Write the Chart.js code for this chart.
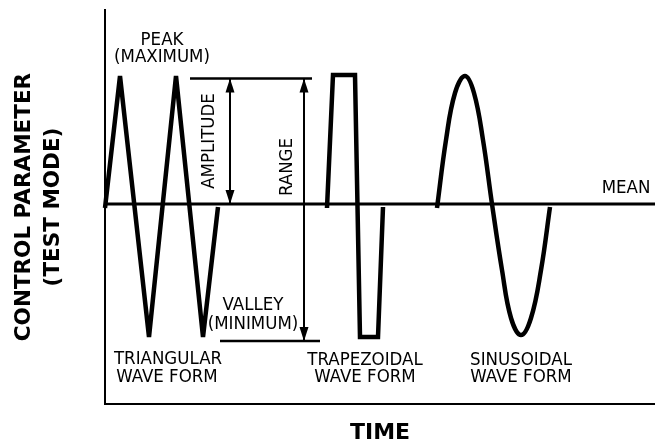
<!DOCTYPE html>
<html>
<head>
<meta charset="utf-8">
<script src="https://cdn.jsdelivr.net/npm/chart.js@4/dist/chart.umd.min.js"></script>
<style>
  html, body { margin: 0; padding: 0; background: #fff; }
  #wrap { width: 655px; height: 442px; }
</style>
</head>
<body>
<div id="wrap"><canvas id="c" width="655" height="442"></canvas></div>
<script>
// ---- Data (time units along x, control-parameter units along y; mean = 0) ----
const triangularTime  = [0, 15, 44, 71, 98, 113];
const triangularValue = [-4, 128, -133, 128, -133, -3];

const trapezoidalTime  = [222, 228, 250, 255, 273, 278];
const trapezoidalValue = [-4, 129, 129, -133, -133, -3];

const sinusoidalTime  = [332, 341, 350, 360, 369, 378, 387, 397, 406, 416, 426, 436, 445];
const sinusoidalValue = [-4, 64, 111, 128, 111, 64, 0, -66, -114, -131, -114, -66, -3];

const meanTime  = [0, 550];
const meanValue = [0, 0];

const peakRefTime    = [85, 207];
const peakRefValue   = [125.5, 125.5];
const valleyRefTime  = [115, 215];
const valleyRefValue = [-137, -137];

const amplitudeTime  = [125, 125];
const amplitudeValue = [125.5, 0];
const rangeTime      = [199, 199];
const rangeValue     = [125.5, -137];

const axisRange = { xMin: 0, xMax: 550, yMin: -200, yMax: 194 };

// ---- Annotation labels (data coordinates) ----
const annotationLabels = [
  { text: 'PEAK',        x: 57,  y: 164 },
  { text: '(MAXIMUM)',   x: 57,  y: 147 },
  { text: 'AMPLITUDE',   x: 104, y: 63, rotate: true },
  { text: 'RANGE',       x: 182, y: 37, rotate: true },
  { text: 'VALLEY',      x: 148, y: -101 },
  { text: '(MINIMUM)',   x: 148, y: -120 },
  { text: 'TRIANGULAR',  x: 63,  y: -155 },
  { text: 'WAVE FORM',   x: 62,  y: -173 },
  { text: 'TRAPEZOIDAL', x: 260, y: -156 },
  { text: 'WAVE FORM',   x: 260, y: -173 },
  { text: 'SINUSOIDAL',  x: 416, y: -156 },
  { text: 'WAVE FORM',   x: 416, y: -173 },
  { text: 'MEAN',        x: 521, y: 16 }
];

const zip = (xs, ys) => xs.map((x, i) => ({ x: x, y: ys[i] }));

function lineSet(label, xs, ys, width, extra) {
  return Object.assign({
    label: label,
    data: zip(xs, ys),
    borderColor: '#000',
    backgroundColor: '#000',
    borderWidth: width,
    pointRadius: 0,
    pointHoverRadius: 0,
    fill: false,
    tension: 0,
    clip: false,
    borderCapStyle: 'butt',
    borderJoinStyle: 'miter'
  }, extra || {});
}

const labelPlugin = {
  id: 'annotationsAndArrows',
  afterDatasetsDraw(chart) {
    const ctx = chart.ctx;
    const xs = chart.scales.x, ys = chart.scales.y;
    // arrowheads
    chart.data.datasets.forEach((ds) => {
      if (!ds.arrows) return;
      const p0 = { x: xs.getPixelForValue(ds.data[0].x), y: ys.getPixelForValue(ds.data[0].y) };
      const p1 = { x: xs.getPixelForValue(ds.data[1].x), y: ys.getPixelForValue(ds.data[1].y) };
      const head = (tip, from) => {
        const ang = Math.atan2(tip.y - from.y, tip.x - from.x);
        const L = 14, W = 4.5;
        ctx.save();
        ctx.translate(tip.x, tip.y);
        ctx.rotate(ang);
        ctx.beginPath();
        ctx.moveTo(0, 0);
        ctx.lineTo(-L, -W);
        ctx.lineTo(-L, W);
        ctx.closePath();
        ctx.fillStyle = '#000';
        ctx.fill();
        ctx.restore();
      };
      head(p0, p1);
      head(p1, p0);
    });
    // text labels
    ctx.save();
    ctx.fillStyle = '#000';
    ctx.font = '18.5px "DejaVu Sans Condensed", "DejaVu Sans", sans-serif';
    ctx.textAlign = 'center';
    ctx.textBaseline = 'middle';
    annotationLabels.forEach((l) => {
      const px = xs.getPixelForValue(l.x), py = ys.getPixelForValue(l.y);
      ctx.save();
      ctx.translate(px, py);
      if (l.rotate) ctx.rotate(-Math.PI / 2);
      ctx.fillText(l.text, 0, 0);
      ctx.restore();
    });
    ctx.restore();
  }
};

new Chart(document.getElementById('c'), {
  type: 'line',
  data: {
    datasets: [
      lineSet('Mean', meanTime, meanValue, 3),
      lineSet('Peak reference', peakRefTime, peakRefValue, 2.5),
      lineSet('Valley reference', valleyRefTime, valleyRefValue, 2.5),
      lineSet('Amplitude', amplitudeTime, amplitudeValue, 2, { arrows: true }),
      lineSet('Range', rangeTime, rangeValue, 2, { arrows: true }),
      lineSet('Triangular', triangularTime, triangularValue, 4.5, { borderJoinStyle: 'bevel' }),
      lineSet('Trapezoidal', trapezoidalTime, trapezoidalValue, 4.5),
      lineSet('Sinusoidal', sinusoidalTime, sinusoidalValue, 4.5, { tension: 0.4 })
    ]
  },
  options: {
    responsive: false,
    animation: false,
    devicePixelRatio: 1,
    layout: { padding: { top: 10, left: 0, right: 0, bottom: 0 } },
    plugins: { legend: { display: false }, tooltip: { enabled: false } },
    events: [],
    scales: {
      x: {
        type: 'linear',
        min: axisRange.xMin, max: axisRange.xMax,
        grid: { display: false, drawTicks: false },
        ticks: { display: false },
        border: { display: true, color: '#000', width: 2 },
        title: {
          display: true, text: 'TIME', color: '#000',
          font: { family: '"DejaVu Sans", sans-serif', size: 22, weight: 'bold', lineHeight: 18 / 22 },
          padding: { top: 20, bottom: 0 }
        }
      },
      y: {
        type: 'linear',
        min: axisRange.yMin, max: axisRange.yMax,
        grid: { display: false, drawTicks: false },
        ticks: { display: false },
        border: { display: true, color: '#000', width: 2 },
        title: {
          display: true, text: ['CONTROL PARAMETER', '(TEST MODE)'], color: '#000',
          font: { family: '"DejaVu Sans", sans-serif', size: 21.5, weight: 'bold', lineHeight: 29 / 21.5 },
          padding: { top: 10, bottom: 37 }
        }
      }
    }
  },
  plugins: [labelPlugin]
});
</script>
</body>
</html>
